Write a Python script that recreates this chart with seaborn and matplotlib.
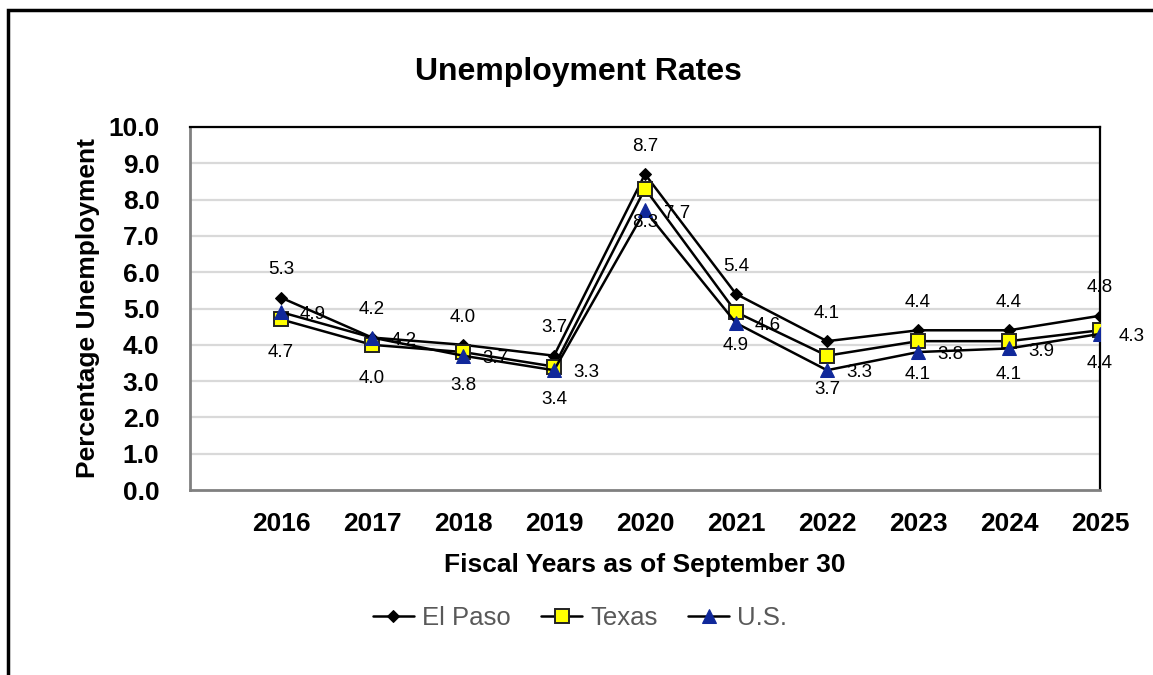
import matplotlib
matplotlib.use("Agg")
import matplotlib.pyplot as plt
import seaborn as sns
import pandas as pd
from matplotlib.patches import Rectangle

years = ["2016", "2017", "2018", "2019", "2020", "2021", "2022", "2023", "2024", "2025"]
el_paso = [5.3, 4.2, 4.0, 3.7, 8.7, 5.4, 4.1, 4.4, 4.4, 4.8]
texas = [4.7, 4.0, 3.8, 3.4, 8.3, 4.9, 3.7, 4.1, 4.1, 4.4]
us = [4.9, 4.2, 3.7, 3.3, 7.7, 4.6, 3.3, 3.8, 3.9, 4.3]

sns.set_theme(style="white")
plt.rcParams["font.family"] = ["Liberation Sans", "DejaVu Sans"]
plt.rcParams["text.color"] = "black"
plt.rcParams["axes.labelcolor"] = "black"
plt.rcParams["xtick.labelcolor"] = "black"
plt.rcParams["ytick.labelcolor"] = "black"

fig = plt.figure(figsize=(11.53, 6.75), dpi=100)
ax = fig.add_axes([190 / 1153, 1 - 490 / 675, 910 / 1153, 363 / 675])

x = list(range(len(years)))

# light horizontal gridlines
for v in range(1, 11):
    ax.axhline(v, color="#d9d9d9", lw=1.6, zorder=0)

series = [
    ("El Paso", el_paso, dict(marker="D", markersize=6.5, markerfacecolor="black",
                               markeredgecolor="black")),
    ("Texas", texas, dict(marker="s", markersize=10.5, markerfacecolor="#ffff00",
                           markeredgecolor="#222222", markeredgewidth=1.4)),
    ("U.S.", us, dict(marker="^", markersize=9.5, markerfacecolor="#10289a",
                       markeredgecolor="#10289a")),
]
for name, vals, mk in series:
    df = pd.DataFrame({"x": x, "y": vals})
    sns.lineplot(data=df, x="x", y="y", ax=ax, color="black", lw=1.8,
                 label=name, zorder=3, **mk)

# data labels: El Paso above, Texas below, U.S. to the right
for i in x:
    ax.annotate(f"{el_paso[i]:.1f}", (i, el_paso[i]), xytext=(0, 20),
                textcoords="offset points", ha="center", va="center", fontsize=13.5)
    ax.annotate(f"{texas[i]:.1f}", (i, texas[i]), xytext=(0, -24),
                textcoords="offset points", ha="center", va="center", fontsize=13.5)
    ax.annotate(f"{us[i]:.1f}", (i, us[i]), xytext=(23, -2),
                textcoords="offset points", ha="center", va="center", fontsize=13.5)

ax.set_xlim(-1, 9)
ax.set_ylim(0, 10)
ax.set_yticks(range(0, 11))
ax.set_yticklabels([f"{v:.1f}" for v in range(0, 11)], fontsize=19, fontweight="bold")
ax.set_xticks(range(-1, 10))
ax.set_xticklabels([""] + years, fontsize=19, fontweight="bold")
ax.tick_params(axis="both", which="major", direction="out", length=8, width=1.5,
               color="#8c8c8c")
ax.tick_params(axis="y", pad=14)
ax.tick_params(axis="x", pad=8)

for s in ["left", "bottom"]:
    ax.spines[s].set_color("#808080")
    ax.spines[s].set_linewidth(2)
for s in ["top", "right"]:
    ax.spines[s].set_color("black")
    ax.spines[s].set_linewidth(1.6)

ax.set_xlabel("Fiscal Years as of September 30", fontsize=19, fontweight="bold", labelpad=12)
ax.set_ylabel("Percentage Unemployment", fontsize=19, fontweight="bold", labelpad=6)
fig.text(578 / 1153, 1 - 72 / 675, "Unemployment Rates", ha="center", va="center",
         fontsize=23, fontweight="bold")

leg = ax.legend(loc="center", bbox_to_anchor=(580 / 1153, 1 - 618 / 675),
                bbox_transform=fig.transFigure, ncol=3, frameon=False,
                fontsize=18.5, handlelength=1.6, columnspacing=1.2, handletextpad=0.3)
for t in leg.get_texts():
    t.set_color("#595959")

# outer frame (partly visible)
fig.patches.append(Rectangle((8 / 1153, -0.1), 1.2, 1 - 10 / 675 + 0.1,
                             transform=fig.transFigure, fill=False,
                             edgecolor="black", lw=2.5))

fig.savefig("out.png", dpi=100)
